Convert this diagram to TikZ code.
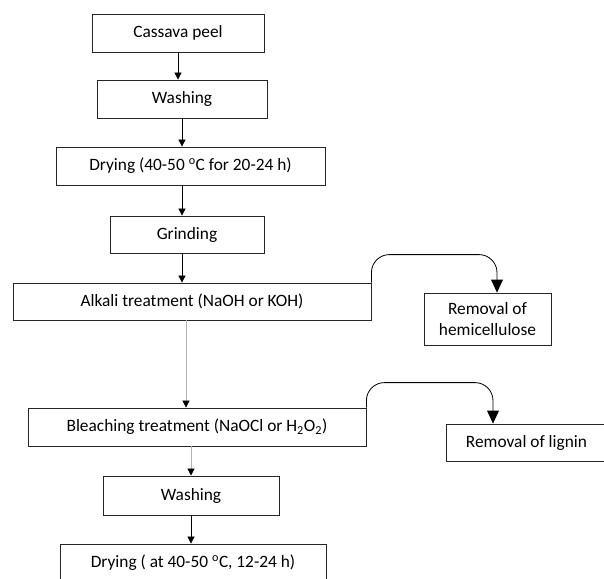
\documentclass[tikz,border=0pt]{standalone}
\usepackage{fontspec}
\setmainfont{Carlito}
\usepackage{tikz}
\usetikzlibrary{arrows.meta, positioning, calc}

\tikzset{
  stepbox/.style={draw=black!85, line width=0.7pt, inner sep=0pt, minimum height=1.14cm, align=center, font=\fontsize{14.8}{17.8}\selectfont},
  flow/.style={line width=0.7pt, -{Triangle[width=6pt, length=6pt]}},
  faint/.style={line width=0.7pt, draw=black!30, -{Triangle[width=6pt, length=6pt, color=black]}},
  branch/.style={line width=0.7pt, rounded corners=0.54cm, -{Triangle[width=10pt, length=11pt]}}
}

\begin{document}
\begin{tikzpicture}
  \useasboundingbox (0, 0) rectangle (18.12, -17.37);
  \clip (0, 0) rectangle (18.12, -17.37);

  % Main process steps
  \node[stepbox, minimum width=5.16cm] (cassava) at (5.34, -0.99) {Cassava peel};
  \node[stepbox, minimum width=5.10cm] (wash1) at (5.46, -2.97) {Washing};
  \node[stepbox, minimum width=8.07cm] (dry1) at (5.715, -4.98) {Drying (40-50 \textsuperscript{o}C for 20-24 h)};
  \node[stepbox, minimum width=4.62cm, minimum height=1.11cm] (grind) at (5.61, -7.035) {Grinding};
  \node[stepbox, minimum width=10.74cm, minimum height=1.11cm] (alkali) at (5.76, -9.045) {Alkali treatment (NaOH or KOH)};
  \node[stepbox, minimum width=10.14cm] (bleach) at (5.91, -12.81) {Bleaching treatment (NaOCl or H\textsubscript{2}O\textsubscript{2})};
  \node[stepbox, minimum width=5.28cm, minimum height=1.17cm] (wash2) at (5.73, -14.865) {Washing};
  \node[stepbox, minimum width=7.98cm] (dry2) at (5.79, -16.89) {Drying ( at 40-50 \textsuperscript{o}C, 12-24 h)};

  % Side outcomes
  \node[stepbox, minimum width=3.81cm, minimum height=1.56cm] (hemi) at (14.625, -9.57) {Removal of\\hemicellulose};
  \node[stepbox, minimum width=4.83cm, minimum height=1.11cm] (lignin) at (15.795, -13.275) {Removal of lignin};

  % Flow arrows
  \draw[flow] (cassava.south) -- (cassava.south |- wash1.north);
  \draw[flow] (wash1.south) -- (wash1.south |- dry1.north);
  \draw[flow] ([xshift=-0.15cm]grind.north |- dry1.south) -- ([xshift=-0.15cm]grind.north);
  \draw[flow] ([xshift=-0.15cm]grind.south) -- ([xshift=-0.15cm]grind.south |- alkali.north);
  \draw[faint] ([xshift=-0.18cm]alkali.south) -- ([xshift=-0.18cm]alkali.south |- bleach.north);
  \draw[faint] (wash2.north |- bleach.south) -- (wash2.north);
  \draw[flow] (wash2.south) -- (wash2.south |- dry2.north);

  % Branches to removal steps
  \draw[branch] (alkali.north east) -- ++(0, 0.84) -| ([xshift=0.285cm]hemi.north);
  \draw[branch] (bleach.north east) -- ++(0, 0.75) -| ([xshift=-1.005cm]lignin.north);
\end{tikzpicture}
\end{document}
